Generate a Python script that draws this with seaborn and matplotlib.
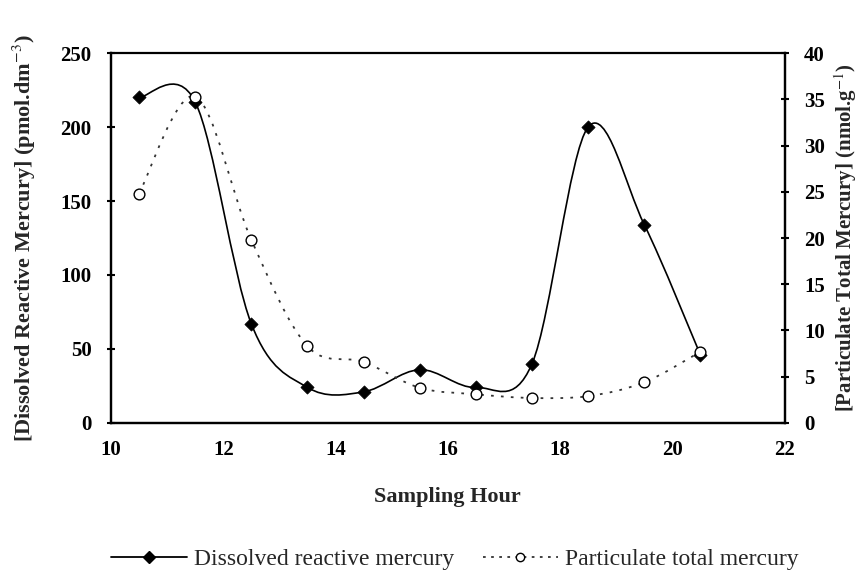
import numpy as np
import pandas as pd
import seaborn as sns
import matplotlib.pyplot as plt
from matplotlib.path import Path
from matplotlib.patches import PathPatch
from matplotlib.lines import Line2D

# Data
hours = [10.5, 11.5, 12.5, 13.5, 14.5, 15.5, 16.5, 17.5, 18.5, 19.5, 20.5]
dissolved = [220, 217, 67, 24, 21, 36, 24, 40, 200, 134, 46]
particulate = [24.8, 35.3, 19.8, 8.3, 6.6, 3.8, 3.1, 2.7, 2.9, 4.4, 7.7]

df = pd.DataFrame({'hour': hours, 'dissolved': dissolved, 'particulate': particulate})


def smooth_path(xs, ys):
    # Excel-like smoothed line: cubic Bezier segments through the data points
    pts = np.column_stack([xs, ys]).astype(float)
    n = len(pts)
    verts = [tuple(pts[0])]
    codes = [Path.MOVETO]
    for i in range(n - 1):
        p0 = pts[i - 1] if i > 0 else pts[i]
        p1 = pts[i]
        p2 = pts[i + 1]
        p3 = pts[i + 2] if i + 2 < n else pts[i + 1]
        c1 = p1 + (p2 - p0) / 6
        c2 = p2 - (p3 - p1) / 6
        verts += [tuple(c1), tuple(c2), tuple(p2)]
        codes += [Path.CURVE4] * 3
    return Path(verts, codes)


sns.set_style('white')
plt.rcParams['font.family'] = ['Liberation Serif', 'DejaVu Serif']
plt.rcParams['mathtext.fontset'] = 'stix'

fig = plt.figure(figsize=(8.67, 5.77), dpi=100)
ax = fig.add_axes([0.128, 0.267, 0.777, 0.641])
ax2 = ax.twinx()

# Dissolved reactive mercury (left axis)
ax.add_patch(PathPatch(smooth_path(df['hour'], df['dissolved']), fill=False,
                       edgecolor='black', linewidth=1.2, zorder=3))
sns.scatterplot(data=df, x='hour', y='dissolved', ax=ax, marker='D', s=45,
                color='black', edgecolor='black', zorder=4, legend=False)

# Particulate total mercury (right axis)
ax2.add_patch(PathPatch(smooth_path(df['hour'], df['particulate']), fill=False,
                        edgecolor='#333333', linewidth=1.3, linestyle=(0, (1.5, 4)),
                        zorder=3))
sns.scatterplot(data=df, x='hour', y='particulate', ax=ax2, marker='o', s=60,
                facecolor='white', edgecolor='black', linewidth=1.0, zorder=4,
                legend=False)

ax.set_xlim(10, 22)
ax.set_ylim(0, 250)
ax2.set_ylim(0, 40)
ax.set_xticks(range(10, 23, 2))
ax.set_yticks(range(0, 251, 50))
ax2.set_yticks(range(0, 41, 5))

for a in (ax, ax2):
    for s in a.spines.values():
        s.set_color('black')
        s.set_linewidth(1.6)
    a.tick_params(direction='inout', length=6, width=1.5, labelsize=15, colors='black')
    for lab in a.get_xticklabels() + a.get_yticklabels():
        lab.set_fontweight('bold')
ax.spines['top'].set_color('#555555')
ax.spines['top'].set_linewidth(1.2)
ax.tick_params(axis='x', pad=9)
ax.tick_params(axis='y', pad=11)
ax2.tick_params(axis='y', pad=11)

ax.set_xlabel('Sampling Hour', fontsize=16, fontweight='bold', labelpad=20)
ax.set_ylabel('[Dissolved Reactive Mercury] (pmol.dm$^{-3}$)', fontsize=16,
              fontweight='bold', labelpad=16)
ax2.set_ylabel('[Particulate Total Mercury] (nmol.g$^{-1}$)', fontsize=15,
               fontweight='bold', labelpad=5)

handles = [
    Line2D([], [], color='black', linewidth=1.3, marker='D', markersize=6,
           markerfacecolor='black'),
    Line2D([], [], color='#333333', linewidth=1.3, linestyle=(0, (1.5, 3)),
           marker='o', markersize=6, markerfacecolor='white', markeredgecolor='black'),
]
fig.legend(handles, ['Dissolved reactive mercury', 'Particulate total mercury'],
           loc='center', bbox_to_anchor=(0.525, 0.03), ncol=2, frameon=False,
           fontsize=17, handlelength=3.2, handletextpad=0.3, columnspacing=1.2)

fig.savefig('out.png', dpi=100)
